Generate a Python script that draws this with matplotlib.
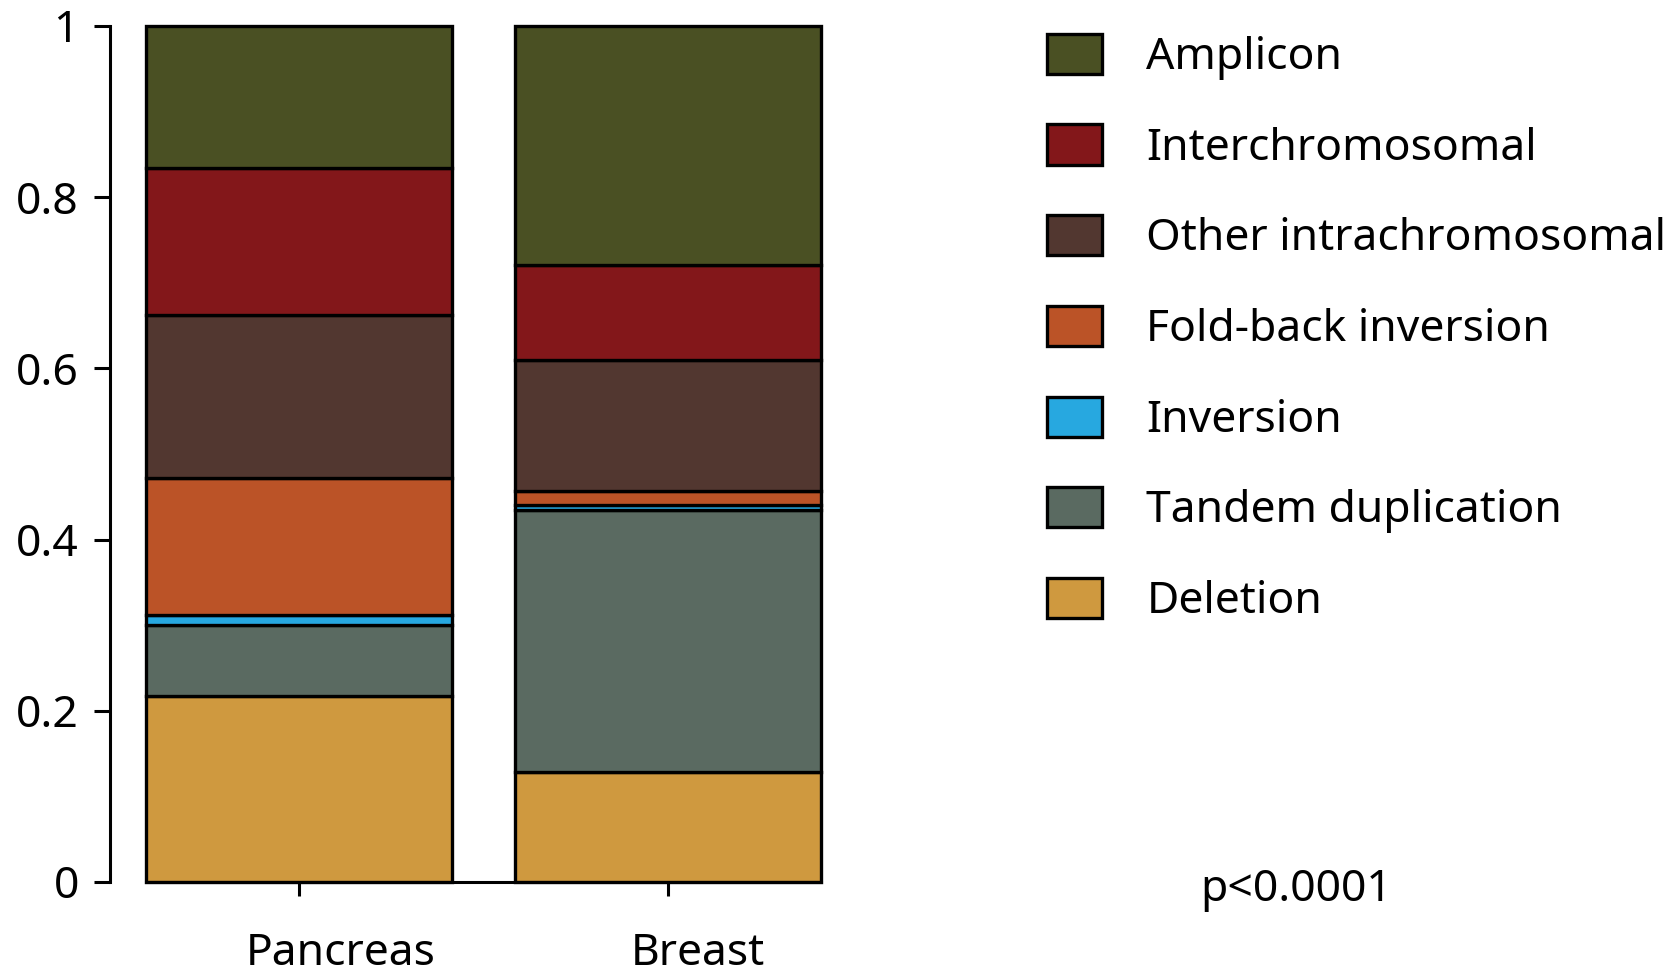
import numpy as np
import matplotlib
matplotlib.use("Agg")
import matplotlib.pyplot as plt
import matplotlib.transforms as mtransforms

plt.rcParams['font.family'] = ['Noto Sans', 'DejaVu Sans']

tissues = ['Pancreas', 'Breast']
categories = ['Deletion', 'Tandem duplication', 'Inversion', 'Fold-back inversion',
              'Other intrachromosomal', 'Interchromosomal', 'Amplicon']
colors = ['#cf993f', '#5a6a61', '#27a8e0', '#bb5327', '#523730', '#83171a', '#4a5023']

# fraction of rearrangements per class (bottom to top)
pancreas = [0.217, 0.083, 0.012, 0.160, 0.190, 0.172, 0.166]
breast = [0.128, 0.307, 0.006, 0.016, 0.153, 0.111, 0.279]

fig = plt.figure(figsize=(16.8, 9.77), dpi=100)
ax = fig.add_axes([110/1680, 95/977, 710.5/1680, 856/977])

x = np.arange(len(tissues))
w = 0.83
data = np.array([pancreas, breast])
bottom = np.zeros(len(tissues))
handles = []
for i, cat in enumerate(categories):
    b = ax.bar(x, data[:, i], w, bottom=bottom, color=colors[i],
               edgecolor='black', linewidth=2.4, label=cat, clip_on=False)
    handles.append(b)
    bottom += data[:, i]

ax.set_xlim(-0.513, 1.415)
ax.set_ylim(0, 1)
ax.set_yticks([0, 0.2, 0.4, 0.6, 0.8, 1])
ax.set_yticklabels(['0', '0.2', '0.4', '0.6', '0.8', '1'])
ax.set_xticks(x)
ax.set_xticklabels(tissues)

for s in ['top', 'right']:
    ax.spines[s].set_visible(False)
ax.spines['left'].set_bounds(0, 1)
ax.spines['bottom'].set_bounds(-w/2, 1 + w/2)
ax.spines['left'].set_linewidth(2.2)
ax.spines['bottom'].set_linewidth(2.2)
ax.tick_params(axis='y', length=11.5, width=2.2, pad=11, labelsize=32)
ax.tick_params(axis='x', length=10, width=2.2, pad=26, labelsize=32)

# tick labels sit a bit right of the ticks in the original
for lab, dx in zip(ax.get_xticklabels(), [42, 30]):
    lab.set_transform(lab.get_transform() + mtransforms.Affine2D().translate(dx, 0))

leg = fig.legend(handles[::-1], categories[::-1], loc='upper left',
                 bbox_to_anchor=(1029/1680, 1 - 16/977), frameon=False,
                 fontsize=32, handlelength=1.24, handleheight=1.01,
                 handletextpad=1.0, labelspacing=1.0, borderaxespad=0)
for p in leg.get_patches():
    p.set_linewidth(2.4)

fig.text(1296/1680, 87/977, 'p<0.0001', fontsize=32, ha='center', va='center')

fig.savefig('out.png', dpi=100)
